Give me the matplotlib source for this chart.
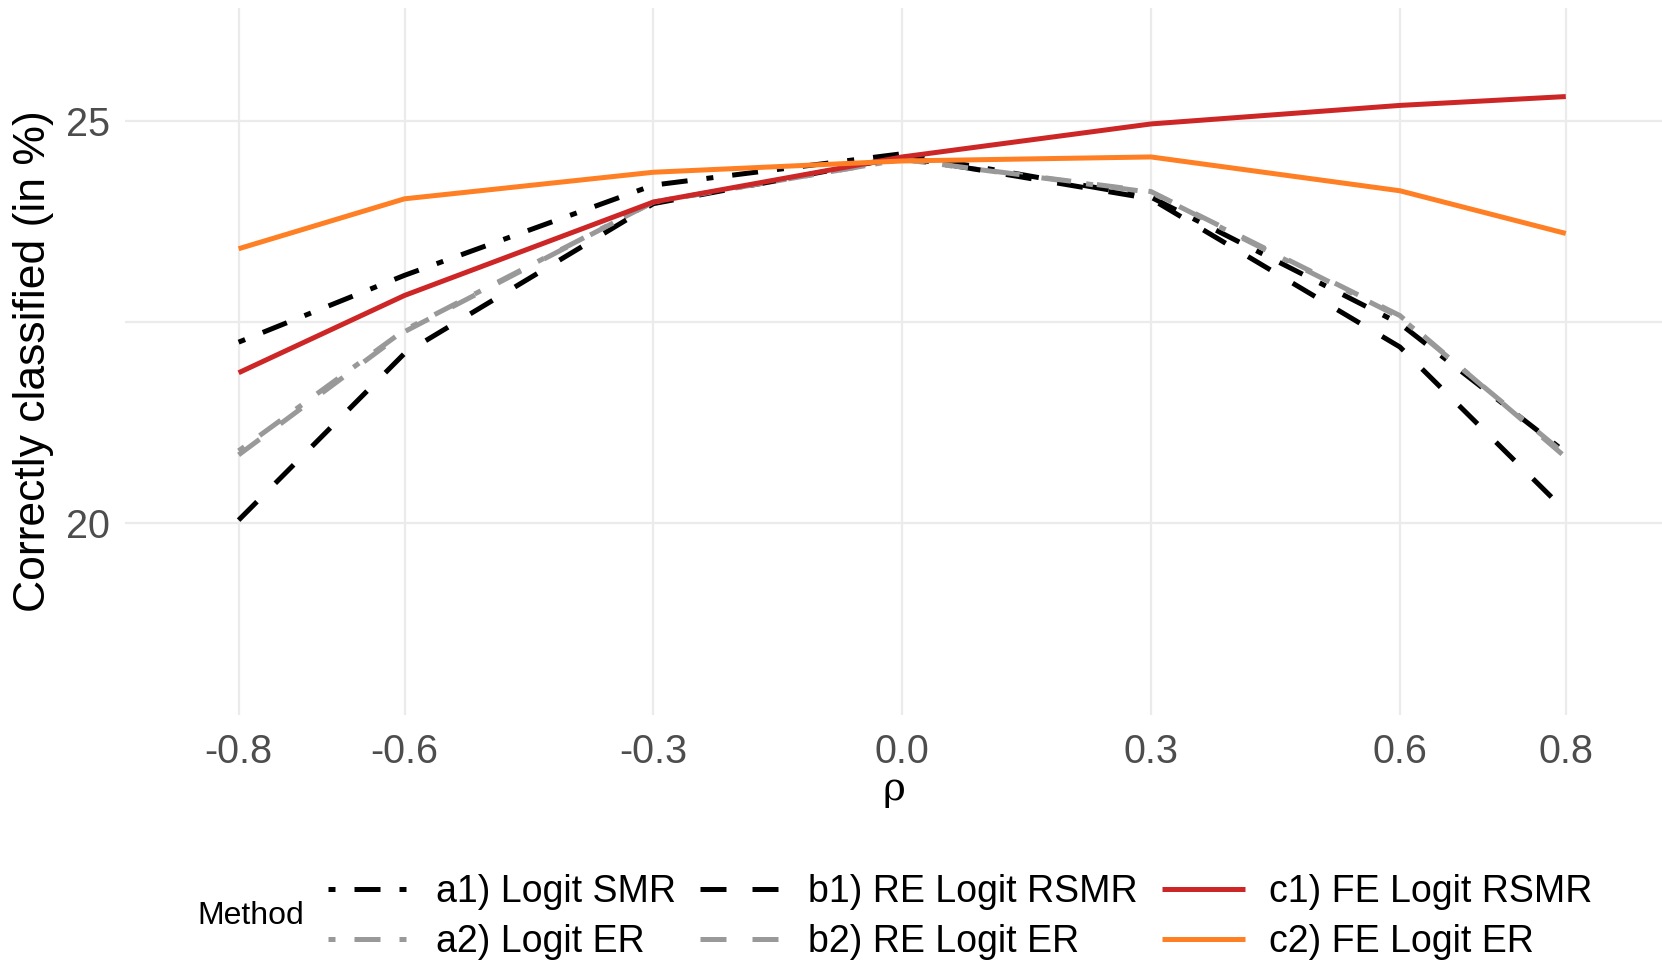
import matplotlib.pyplot as plt

rho = [-0.8, -0.6, -0.3, 0.0, 0.3, 0.6, 0.8]

a1_logit_smr = [22.25, 23.08, 24.20, 24.59, 24.05, 22.48, 20.88]
a2_logit_er = [20.90, 22.40, 23.99, 24.52, 24.11, 22.56, 20.85]
b1_re_logit_rsmr = [20.04, 22.11, 23.97, 24.55, 24.03, 22.19, 20.15]
b2_re_logit_er = [20.85, 22.38, 23.99, 24.52, 24.12, 22.58, 20.82]
c1_fe_logit_rsmr = [21.87, 22.83, 23.99, 24.55, 24.96, 25.19, 25.30]
c2_fe_logit_er = [23.41, 24.03, 24.36, 24.50, 24.55, 24.13, 23.60]

labels = [
    "a1) Logit SMR",
    "a2) Logit ER",
    "b1) RE Logit RSMR",
    "b2) RE Logit ER",
    "c1) FE Logit RSMR",
    "c2) FE Logit ER",
]
x_ticks = [-0.8, -0.6, -0.3, 0.0, 0.3, 0.6, 0.8]
x_tick_labels = ["-0.8", "-0.6", "-0.3", "0.0", "0.3", "0.6", "0.8"]
y_ticks = [20, 25]


def main() -> None:
    plt.rcParams["font.family"] = ["Liberation Sans", "DejaVu Sans"]
    fig = plt.figure(figsize=(16.62, 9.61), dpi=100)
    # panel runs to the right edge of the image, as in the reference
    ax = fig.add_axes([0.0752, 0.256, 0.9248, 0.7357])

    dotdash = (0, (1.4, 3.8, 5.2, 3.8))
    dashed = (0, (5.2, 5.2))
    styles = [
        ("black", dotdash),
        ("#999999", dotdash),
        ("black", dashed),
        ("#999999", dashed),
        ("#CD2626", "-"),
        ("#FF7F24", "-"),
    ]
    series = [a1_logit_smr, a2_logit_er, b1_re_logit_rsmr,
              b2_re_logit_er, c1_fe_logit_rsmr, c2_fe_logit_er]

    for values, label, (color, ls) in zip(series, labels, styles):
        ax.plot(rho, values, color=color, linestyle=ls, linewidth=3.6,
                label=label, solid_capstyle="butt", dash_capstyle="butt")

    ax.set_xlim(-0.937, 0.916)
    ax.set_ylim(17.62, 26.40)
    ax.set_xticks(x_ticks, x_tick_labels)
    ax.set_yticks(y_ticks)
    ax.set_yticks([22.5], minor=True)
    ax.grid(which="both", color="#EBEBEB", linewidth=1.6)
    ax.set_axisbelow(True)
    for spine in ax.spines.values():
        spine.set_visible(False)
    ax.tick_params(which="both", length=0, labelsize=28.5, labelcolor="#4D4D4D")
    ax.tick_params(axis="y", pad=11)
    ax.tick_params(axis="x", pad=13)

    ax.set_ylabel("Correctly classified (in %)", fontsize=32, labelpad=8)
    ax.set_xlabel("ρ", fontsize=28, labelpad=0, family=["DejaVu Serif"])

    handles, leg_labels = ax.get_legend_handles_labels()
    fig.legend(
        handles,
        leg_labels,
        loc="center left",
        bbox_to_anchor=(0.1975, 0.046),
        ncol=3,
        frameon=False,
        fontsize=27,
        handlelength=2.23,
        handletextpad=0.64,
        columnspacing=0.65,
        labelspacing=0.38,
        borderpad=0,
        borderaxespad=0,
    )
    fig.text(0.1185, 0.047, "Method", fontsize=23, ha="left", va="center")

    fig.savefig("out.png", dpi=100)
    plt.close(fig)


if __name__ == "__main__":
    main()
